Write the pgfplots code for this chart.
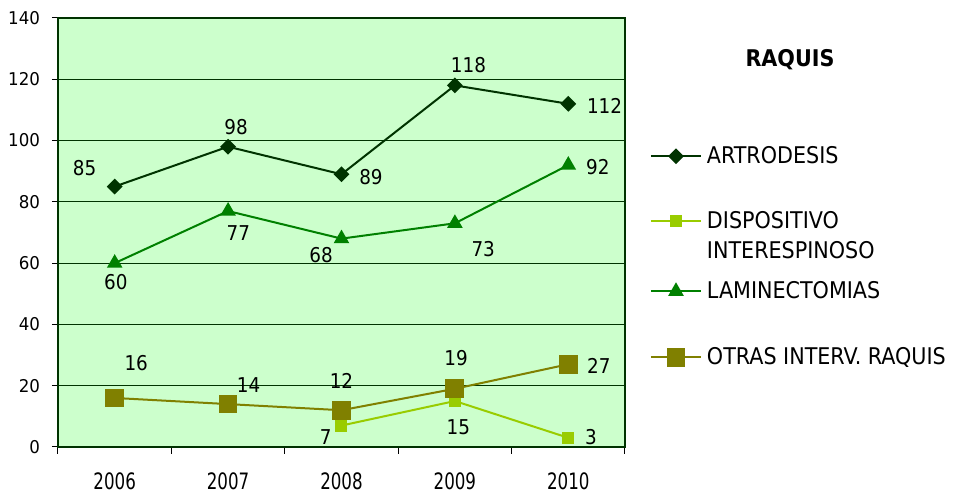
\documentclass[border=0pt]{standalone}
\usepackage{fontspec}
\setmainfont{DejaVu Sans Condensed}
\newfontfamily\numfont[FakeStretch=0.82]{DejaVu Sans Condensed}
\newfontfamily\yfont[FakeStretch=1.05]{DejaVu Sans Condensed}
\usepackage{pgfplots}
\pgfplotsset{compat=1.18}
\definecolor{bg}{HTML}{CCFFCC}
\definecolor{artc}{HTML}{003300}
\definecolor{dispc}{HTML}{99CC00}
\definecolor{lamc}{HTML}{008000}
\definecolor{otrc}{HTML}{808000}
\begin{document}
\begin{tikzpicture}[font=\fontsize{11.5}{13.5}\selectfont]
\begin{axis}[
  at={(0,0)}, anchor=south west,
  scale only axis, width=283.5pt, height=214.5pt,
  xmin=-0.5, xmax=4.5, ymin=0, ymax=140,
  xtick={0,...,4}, xticklabels={2006,2007,2008,2009,2010},
  minor xtick={-0.5,0.5,...,4.5},
  ytick={0,20,...,140},
  xtick pos=left, ytick pos=left,
  ymajorgrids, major grid style={artc, line width=0.5pt},
  axis background/.style={fill=bg},
  axis line style={artc, line width=1pt},
  tick align=outside,
  major tick length=3pt, minor tick length=3.5pt,
  tick style={black, line width=0.5pt},
  major x tick style={draw=none},
  /pgf/number format/assume math mode=true,
  xticklabel style={font=\numfont\fontsize{11.3}{13.5}\selectfont, yshift=-6.5pt},
  yticklabel style={font=\yfont\fontsize{8.8}{10.5}\selectfont, xshift=-2.5pt},
  clip=false,
  legend style={at={(1.0441,0.7075)}, anchor=north west, draw=none, fill=none,
    inner sep=0pt, outer sep=0pt, row sep=0pt,
    nodes={inner sep=0pt, text depth=0pt}, cells={anchor=base west}},
  legend image code/.code={\path (0pt,3.6pt) (27.5pt,3.6pt);
    \draw[mark repeat=2,mark phase=2] plot coordinates {(0pt,3.6pt)(12.5pt,3.6pt)(25pt,3.6pt)};},
]
\addplot[artc, line width=1pt, mark=square*, mark size=2.3pt, mark options={rotate=45, fill=artc}]
  coordinates {(0,85) (1,98) (2,89) (3,118) (4,112)};
\addlegendentry{\rule{0pt}{10pt}ARTRODESIS}
\addplot[dispc, line width=1pt, mark=square*, mark size=2.5pt, mark options={fill=dispc}]
  coordinates {(2,7) (3,15) (4,3)};
\addlegendentry{\rlap{\smash{\raisebox{-15pt}{INTERESPINOSO}}}\rule{0pt}{32.5pt}DISPOSITIVO}
\addplot[lamc, line width=1pt, mark=triangle*, mark size=3.5pt, mark options={fill=lamc}]
  coordinates {(0,60) (1,77) (2,68) (3,73) (4,92)};
\addlegendentry{\rule{0pt}{35pt}LAMINECTOMIAS}
\addplot[otrc, line width=1pt, mark=square*, mark size=4.2pt, mark options={fill=otrc}]
  coordinates {(0,16) (1,14) (2,12) (3,19) (4,27)};
\addlegendentry{\rule{0pt}{33pt}OTRAS INTERV. RAQUIS}
% data labels
\begin{scope}[every node/.style={font=\fontsize{10.2}{12}\selectfont}]
\node at (axis cs:-0.265,91.0) {85};
\node at (axis cs:1.07,104.4) {98};
\node at (axis cs:2.26,88.1) {89};
\node at (axis cs:3.12,124.7) {118};
\node at (axis cs:4.32,111.3) {112};
\node at (axis cs:0.01,53.8) {60};
\node at (axis cs:1.09,69.8) {77};
\node at (axis cs:1.82,62.7) {68};
\node at (axis cs:3.25,64.6) {73};
\node at (axis cs:4.26,91.4) {92};
\node at (axis cs:0.19,27.4) {16};
\node at (axis cs:1.18,20.2) {14};
\node at (axis cs:2.0,21.5) {12};
\node at (axis cs:3.01,29.0) {19};
\node at (axis cs:4.27,26.4) {27};
\node at (axis cs:1.86,3.3) {7};
\node at (axis cs:3.03,6.5) {15};
\node at (axis cs:4.2,3.3) {3};
\end{scope}
\end{axis}
\node[font=\bfseries\fontsize{11.5}{13.5}\selectfont] at (366pt,193.5pt) {RAQUIS};
\pgfresetboundingbox
\path (-29pt,-22.5pt) rectangle (452.5pt,223.5pt);
\end{tikzpicture}
\end{document}
